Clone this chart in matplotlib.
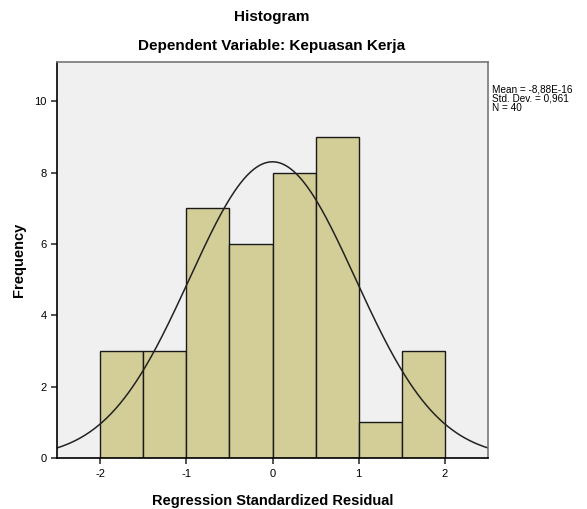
import numpy as np
import matplotlib
matplotlib.use('Agg')
import matplotlib.pyplot as plt

# histogram data read from the SPSS output
bin_edges = [-2.0, -1.5, -1.0, -0.5, 0.0, 0.5, 1.0, 1.5, 2.0]
counts = [3, 3, 7, 6, 8, 9, 1, 3]
mean = -8.88e-16
std = 0.961
n = 40

plt.rcParams['font.family'] = ['Liberation Sans', 'DejaVu Sans']
plt.rcParams['axes.unicode_minus'] = False

fig = plt.figure(figsize=(5.87, 5.09), dpi=100)
ax = fig.add_axes([57 / 587, 1 - 458 / 509, (488 - 57) / 587, (458 - 62) / 509])
ax.set_facecolor('#F0F0F0')

widths = np.diff(bin_edges)
ax.bar(bin_edges[:-1], counts, width=widths, align='edge',
       color='#D3CE98', edgecolor='#1a1a1a', linewidth=1.0)

# normal curve scaled to counts
x = np.linspace(-2.5, 2.5, 400)
bw = widths[0]
y = n * bw / (std * np.sqrt(2 * np.pi)) * np.exp(-0.5 * ((x - mean) / std) ** 2)
ax.plot(x, y, color='#222222', linewidth=1.1)

ax.set_xlim(-2.5, 2.5)
ax.set_ylim(0, 11.1)
ax.set_xticks([-2, -1, 0, 1, 2])
ax.set_yticks([0, 2, 4, 6, 8, 10])
ax.tick_params(axis='both', labelsize=8, length=4, width=1.2, direction='out', color='#333333')
ax.tick_params(axis='x', pad=4)

for side in ['left', 'bottom']:
    ax.spines[side].set_color('black')
    ax.spines[side].set_linewidth(1.2)
for side in ['top', 'right']:
    ax.spines[side].set_color('#777777')
    ax.spines[side].set_linewidth(1.2)

ax.set_xlabel('Regression Standardized Residual', fontsize=10.5, fontweight='bold', labelpad=11)
ax.set_ylabel('Frequency', fontsize=10.5, fontweight='bold', labelpad=6)

fig.text(272 / 587, 1 - 17 / 509, 'Histogram', ha='center', va='center',
         fontsize=11, fontweight='bold')
fig.text(272 / 587, 1 - 46 / 509, 'Dependent Variable: Kepuasan Kerja', ha='center', va='center',
         fontsize=11, fontweight='bold')

fig.text(492 / 587, 1 - 84 / 509,
         'Mean = -8,88E-16\nStd. Dev. = 0,961\nN = 40',
         ha='left', va='top', fontsize=7.2, linespacing=0.95)

fig.savefig('out.png', dpi=100, facecolor='white')
